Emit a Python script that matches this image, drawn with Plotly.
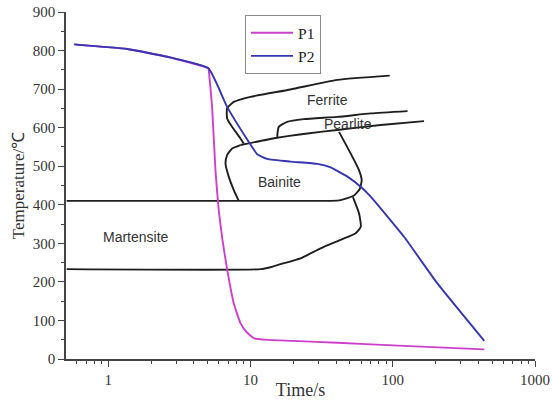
import math
import plotly.graph_objects as go

# --- cooling curves ---
p1_time = [0.576, 1.36, 2.6, 5.06, 5.09, 5.37, 5.67, 5.98, 6.35, 6.86, 7.63, 8.5, 9.37, 10.55, 13.1, 20, 40.8, 120, 440]
p1_temp = [816, 804, 784, 754, 749, 654, 490, 386, 309, 231, 144, 93, 70, 54, 49.5, 47, 42, 34, 25]

p2_time = [0.576, 1.36, 2.6, 5.06, 6.85, 9.73, 11.15, 13.1, 19.1, 29.5, 36.6, 48.0, 61.2, 70, 120, 206, 440]
p2_temp = [816, 804, 784, 754, 654, 563, 531, 519, 512, 506, 497, 473, 443, 421, 317, 196, 47]

# --- CCT diagram boundaries ---
ferrite_time = [8.97, 8.5, 7.43, 6.85, 6.85, 7.63, 10.0, 19.1, 40.8, 95.2]
ferrite_temp = [559, 572, 602, 624, 650, 667, 680, 699, 724, 735]

pearlite_start_time = [15.4, 15.8, 18.1, 23.7, 40.8, 70.0, 127]
pearlite_start_temp = [576, 602, 615, 622, 628, 637, 643]

pearlite_end_time = [8.5, 15.4, 25.1, 40.8, 82.3, 166]
pearlite_end_temp = [555, 574, 585, 594, 607, 617]

bainite_left_time = [8.5, 7.43, 6.85, 6.67, 7.03, 7.63, 8.27]
bainite_left_temp = [555, 546, 529, 507, 473, 438, 410]

bainite_right_time = [41.9, 50.6, 57.9, 60.5, 58.6, 53.4, 43.0, 36.6, 0.51]
bainite_right_temp = [589, 533, 490, 464, 441, 424, 412, 410, 410]

martensite_time = [52.5, 57.9, 59.6, 54.9, 43.0, 31.1, 22.5, 16.3, 13.8, 11.8, 0.51]
martensite_temp = [420, 378, 343, 326, 309, 287, 261, 246, 238, 233, 233]

labels = ["Ferrite", "Pearlite", "Bainite", "Martensite"]
label_time = [35.0, 48.4, 16.1, 1.56]
label_temp = [673, 609, 458, 316]

x_ticks = [1, 10, 100, 1000]
x_minor = [0.6, 0.7, 0.8, 0.9, 2, 3, 4, 5, 6, 7, 8, 9, 20, 30, 40, 50, 60, 70, 80, 90,
           200, 300, 400, 500, 600, 700, 800, 900]
y_ticks = [0, 100, 200, 300, 400, 500, 600, 700, 800, 900]
y_minor = [50, 150, 250, 350, 450, 550, 650, 750, 850]

MAGENTA = "#cc40cc"
BLUE = "#3535b2"
BLACK = "#1e1e1e"

fig = go.Figure()

boundaries = [
    (ferrite_time, ferrite_temp),
    (pearlite_start_time, pearlite_start_temp),
    (pearlite_end_time, pearlite_end_temp),
    (bainite_left_time, bainite_left_temp),
    (bainite_right_time, bainite_right_temp),
    (martensite_time, martensite_temp),
]
for t, T in boundaries:
    fig.add_trace(go.Scatter(x=t, y=T, mode="lines", showlegend=False, hoverinfo="skip",
                             line=dict(color=BLACK, width=1.9, shape="spline", smoothing=0.5)))

fig.add_trace(go.Scatter(x=p1_time, y=p1_temp, mode="lines", name="P1",
                         line=dict(color=MAGENTA, width=1.9, shape="spline", smoothing=0.4)))
fig.add_trace(go.Scatter(x=p2_time, y=p2_temp, mode="lines", name="P2",
                         line=dict(color=BLUE, width=1.9, shape="spline", smoothing=0.4)))

for lab, t, T in zip(labels, label_time, label_temp):
    fig.add_annotation(x=math.log10(t), y=T, text=lab, showarrow=False, xref="x", yref="y",
                       font=dict(family="Liberation Sans, Arial, sans-serif", size=14, color="#333333"))

serif = "Liberation Serif, Times New Roman, serif"

fig.update_layout(
    width=552, height=400,
    margin=dict(l=66, r=17, t=12, b=41),
    paper_bgcolor="white", plot_bgcolor="white",
    font=dict(family=serif, size=15, color="#333333"),
    legend=dict(x=0.3817, y=0.991, xanchor="left", yanchor="top",
                bordercolor="#888888", borderwidth=1, bgcolor="white",
                font=dict(family=serif, size=15.5, color="#222222"),
                tracegroupgap=0, itemwidth=42),
)

fig.update_xaxes(
    type="log", range=[-0.297, 3], automargin=False,
    tickvals=x_ticks, ticktext=[str(v) for v in x_ticks],
    ticks="outside", ticklen=6, tickwidth=1.3, tickcolor="#444444",
    minor=dict(tickvals=x_minor, ticks="outside", ticklen=3, tickwidth=1.2, tickcolor="#444444", showgrid=False),
    showline=True, linecolor="#444444", linewidth=1.5,
    showgrid=False, zeroline=False,
    tickfont=dict(family=serif, size=15, color="#333333"),
    title=dict(text="Time/s", font=dict(family=serif, size=18, color="#333333"), standoff=2),
)
fig.update_yaxes(
    range=[0, 900], automargin=False,
    tickvals=y_ticks,
    ticks="outside", ticklen=6, tickwidth=1.3, tickcolor="#444444",
    minor=dict(tickvals=y_minor, ticks="outside", ticklen=3, tickwidth=1.2, tickcolor="#444444", showgrid=False),
    showline=True, linecolor="#444444", linewidth=1.5,
    showgrid=False, zeroline=False,
    tickfont=dict(family=serif, size=15, color="#333333"),
    title=dict(text="Temperature/℃", font=dict(family=serif, size=17, color="#333333"), standoff=4),
)

fig.write_html("out.html", config={"displayModeBar": False},
               post_script="document.body.style.margin='0';document.body.style.overflow='hidden';")
